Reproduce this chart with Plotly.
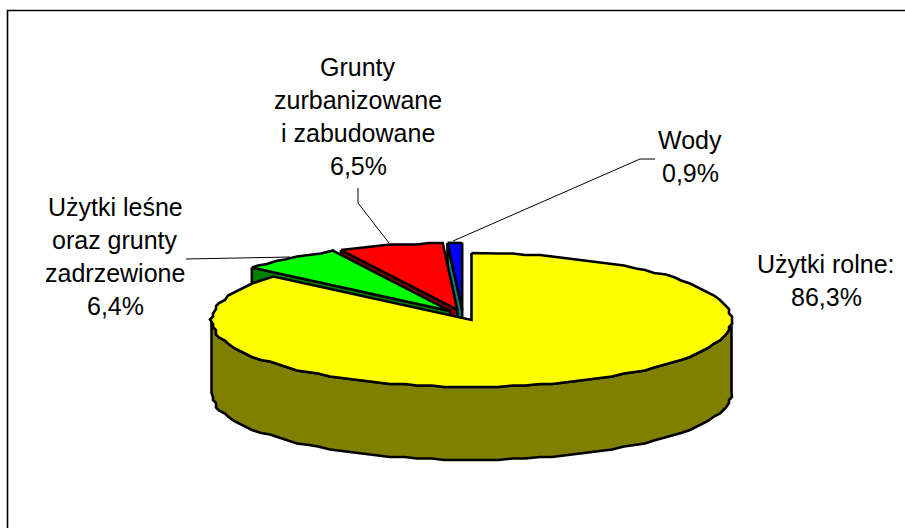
import math
import plotly.graph_objects as go

# --- data ---
categories = ["Użytki rolne", "Użytki leśne oraz grunty zadrzewione", "Grunty zurbanizowane i zabudowane", "Wody"]
shares = [86.3, 6.4, 6.5, 0.9]
top_colors = ["#FFFF00", "#00FF00", "#FF0000", "#0000FF"]
side_colors = ["#808000", "#008000", "#800000", "#008080"]
label_lines = [
    ["Użytki rolne:", "86,3%"],
    ["Użytki leśne", "oraz grunty", "zadrzewione", "6,4%"],
    ["Grunty", "zurbanizowane", "i zabudowane", "6,5%"],
    ["Wody", "0,9%"],
]

# --- layout / geometry settings (pixels of the 905x528 page) ---
W, H = 905, 528
RX, RY = 260, 67
DEPTH = 73
EXPLODE = 0.08
YELLOW_APEX = (471.5, 320)
STEP = 3
SNAP_X, SNAP_Y = 3, 1.5   # the reference's curves are slightly stair-stepped polylines
LW = 2.6
FONT = 25
LABEL_X = [826, 115, 358, 690]
LABEL_BASE = [274, 216.5, 77, 149.5]
LINE_GAP = 33
BASE_SHIFT = 5
LEADERS = [
    None,
    [(186, 259), (290, 257)],
    [(358, 188), (358, 203), (389, 243)],
    [(655, 159), (640, 159), (453, 241)],
]

total = sum(shares)
edges = [0.0]
for s in shares:
    edges.append(edges[-1] + 360.0 * s / total)
mids = [(edges[i] + edges[i + 1]) / 2 for i in range(len(shares))]


def vec(deg):
    r = math.radians(deg)
    return math.sin(r) * RX, -math.cos(r) * RY


# pie centre before explosion, derived from the first slice's apex
dx0, dy0 = vec(mids[0])
CX, CY = YELLOW_APEX[0] - EXPLODE * dx0, YELLOW_APEX[1] - EXPLODE * dy0


def apex(i):
    dx, dy = vec(mids[i])
    return CX + EXPLODE * dx, CY + EXPLODE * dy


def arc(i, a0, a1):
    """Arc of slice i; inner points sit on a shared angle grid so top and rim coincide."""
    ax, ay = apex(i)
    pts = [(ax + vec(a0)[0], ay + vec(a0)[1])]
    g = math.floor(a0 / STEP) + 1
    while g * STEP < a1:
        vx, vy = vec(g * STEP)
        pts.append((round((ax + vx) / SNAP_X) * SNAP_X, round((ay + vy) / SNAP_Y) * SNAP_Y))
        g += 1
    pts.append((ax + vec(a1)[0], ay + vec(a1)[1]))
    return pts


def poly(pts, color):
    pts = pts + [pts[0]]
    return go.Scatter(
        x=[p[0] for p in pts], y=[p[1] for p in pts], mode="lines",
        fill="toself", fillcolor=color,
        line=dict(color="black", width=LW), hoverinfo="skip", showlegend=False,
    )


fig = go.Figure()

# painter's order: back slices first, front slice last
for i in [3, 2, 1]:
    ax, ay = apex(i)
    vx, vy = vec(edges[i])
    outer = (ax + vx, ay + vy)
    fig.add_trace(poly([outer, (ax, ay), (ax, ay + DEPTH), (outer[0], outer[1] + DEPTH)], side_colors[i]))
    fig.add_trace(poly(arc(i, edges[i], edges[i + 1]) + [(ax, ay)], top_colors[i]))

rim = arc(0, 90, 270)
fig.add_trace(poly(rim + [(x, y + DEPTH) for x, y in reversed(rim)], side_colors[0]))
fig.add_trace(poly(arc(0, edges[0], edges[1]) + [apex(0)], top_colors[0]))

for leader in LEADERS:
    if leader:
        fig.add_trace(go.Scatter(
            x=[p[0] for p in leader], y=[p[1] for p in leader], mode="lines",
            line=dict(color="black", width=1), hoverinfo="skip", showlegend=False,
        ))

annotations = []
for lines, x0, b0 in zip(label_lines, LABEL_X, LABEL_BASE):
    for j, txt in enumerate(lines):
        annotations.append(dict(
            x=x0, y=b0 + j * LINE_GAP + BASE_SHIFT, xref="x", yref="y", text=txt, showarrow=False,
            xanchor="center", yanchor="bottom", borderpad=0,
            font=dict(family="Liberation Sans", size=FONT, color="black"),
        ))

fig.update_layout(
    width=W, height=H, margin=dict(l=0, r=0, t=0, b=0),
    paper_bgcolor="white", plot_bgcolor="white", showlegend=False,
    xaxis=dict(range=[0, W], visible=False, fixedrange=True),
    yaxis=dict(range=[H, 0], visible=False, fixedrange=True),
    annotations=annotations,
    shapes=[dict(type="path", path=f"M 7.5 {H} L 7.5 10.5 L {W} 10.5",
                 line=dict(color="black", width=1.6), layer="below")],
)

fig.write_html(
    "out.html",
    config={"displayModeBar": False},
    post_script="document.body.style.margin='0';document.body.style.overflow='hidden';",
)
